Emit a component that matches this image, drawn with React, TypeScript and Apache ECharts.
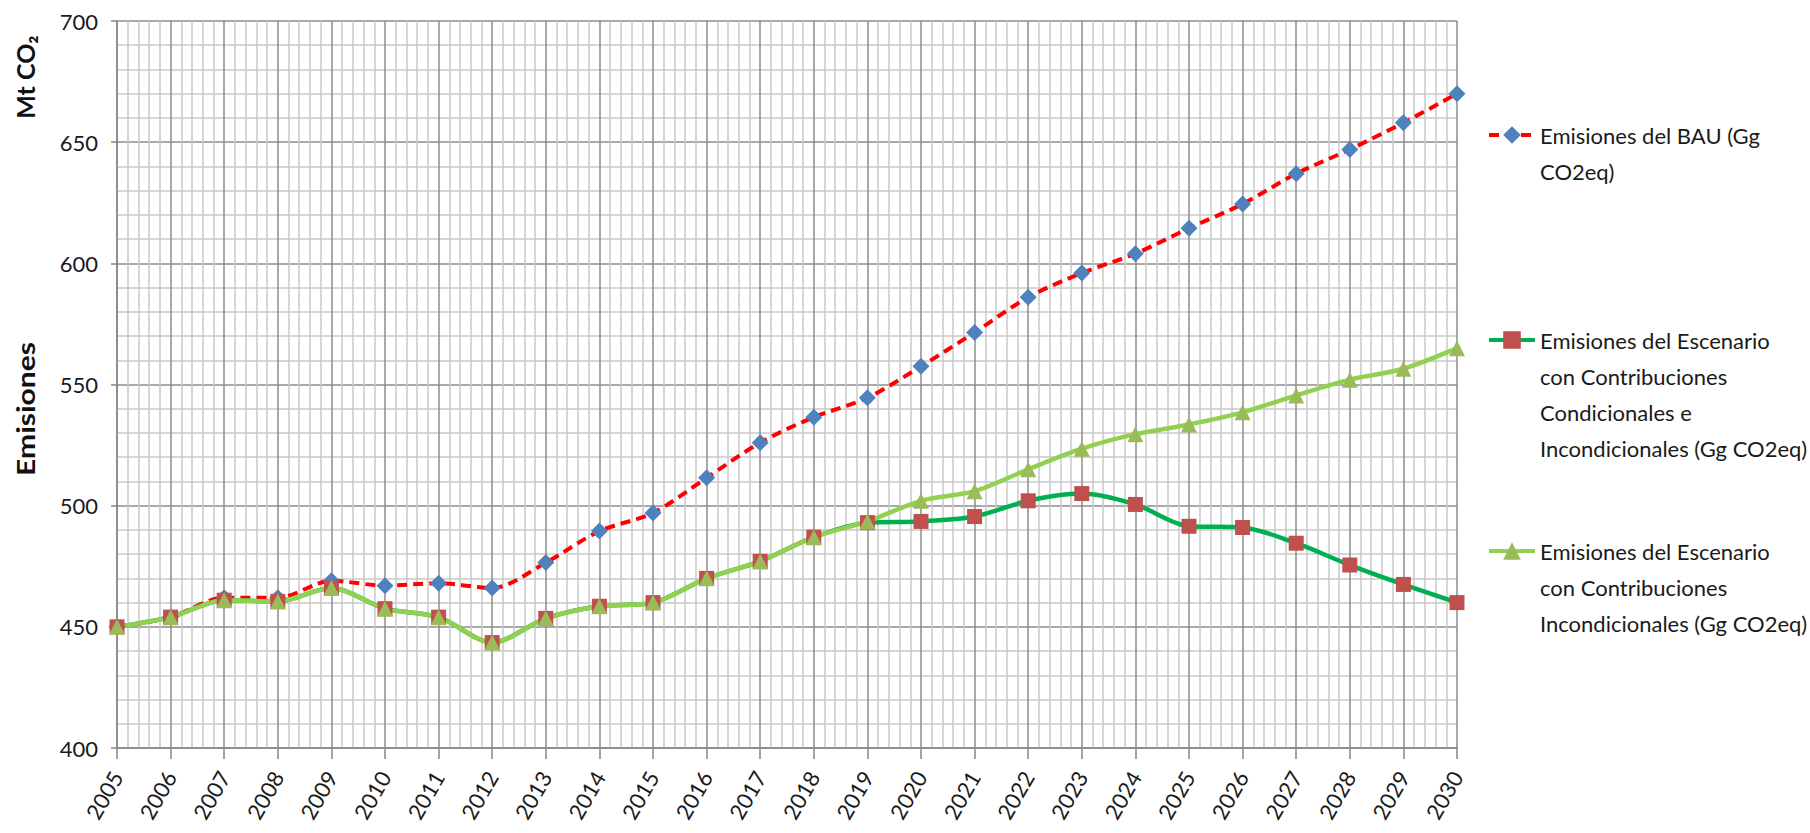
import React, { useEffect, useRef } from "react";
import * as echarts from "echarts";

// ---- Data ----
const years = [
  2005, 2006, 2007, 2008, 2009, 2010, 2011, 2012, 2013, 2014, 2015, 2016, 2017,
  2018, 2019, 2020, 2021, 2022, 2023, 2024, 2025, 2026, 2027, 2028, 2029, 2030,
];

const bauValues = [
  450, 454, 462, 462, 469, 467, 468, 466, 476.5, 489.5, 497, 511.5, 526, 536.5,
  544.5, 557.5, 571.5, 586, 596, 604, 614.5, 624.5, 637, 647, 658, 670,
];

const conditionalValues = [
  450, 454, 461, 460.5, 466, 457.5, 454, 443.5, 453.5, 458.5, 460, 470, 477,
  487, 493, 493.5, 495.5, 502, 505, 500.5, 491.5, 491, 484.5, 475.5, 467.5, 460,
];

const unconditionalValues = [
  450, 454, 461, 460.5, 466, 457.5, 454, 443.5, 453.5, 458.5, 460, 470, 477,
  487, 493.5, 502, 506, 515, 523.5, 529.5, 533.5, 538.5, 545.5, 552, 556.5, 565,
];

const yMin = 400;
const yMax = 700;
const yStep = 50;

const seriesNames = [
  "Emisiones del BAU (Gg CO2eq)",
  "Emisiones del Escenario con Contribuciones Condicionales e Incondicionales (Gg CO2eq)",
  "Emisiones del Escenario con Contribuciones Incondicionales (Gg CO2eq)",
];

const legendLines = [
  ["Emisiones del BAU (Gg", "CO2eq)"],
  ["Emisiones del Escenario", "con Contribuciones", "Condicionales e", "Incondicionales (Gg CO2eq)"],
  ["Emisiones del Escenario", "con Contribuciones", "Incondicionales (Gg CO2eq)"],
];

const yTitleTop = "Mt CO\u2082";
const yTitleMid = "Emisiones";

const FONT = 'Lato, "Liberation Sans", "DejaVu Sans", sans-serif';

export default function App() {
  const ref = useRef<HTMLDivElement>(null);

  useEffect(() => {
    if (!ref.current) return;
    const chart = echarts.init(ref.current, null, { renderer: "svg" });

    const lh = 36;
    const legendTops = [81, 214, 461];

    const legends = seriesNames.map((name, i) => {
      const n = legendLines[i].length;
      // leading blank lines keep the icon level with the first text line
      const label = "\n".repeat(n - 1) + legendLines[i].join("\n");
      return {
        show: true,
        data: [name],
        orient: "vertical",
        left: 1487,
        top: legendTops[i],
        padding: 0,
        itemWidth: 46,
        itemHeight: 22,
        selectedMode: false,
        formatter: () => label,
        lineStyle: { width: 4 },
        textStyle: {
          fontFamily: FONT,
          fontSize: 22,
          color: "#1a1a1a",
          lineHeight: lh,
        },
      };
    });

    const option: any = {
      animation: false,
      backgroundColor: "#ffffff",
      textStyle: { fontFamily: FONT },
      grid: { left: 117, top: 21, width: 1340, height: 727, containLabel: false },
      legend: legends,
      xAxis: {
        type: "value",
        min: years[0],
        max: years[years.length - 1],
        interval: 1,
        axisLine: { show: true, onZero: false, lineStyle: { color: "#868686", width: 1.5 } },
        axisTick: { show: true, length: 11, lineStyle: { color: "#868686", width: 1.5 } },
        axisLabel: {
          rotate: 60,
          margin: 25,
          fontSize: 22,
          color: "#1a1a1a",
          fontFamily: FONT,
          formatter: (v: number) => String(v),
        },
        splitLine: { show: true, lineStyle: { color: "#8c8c8c", width: 1.5 } },
        minorTick: { show: false, splitNumber: 5 },
        minorSplitLine: { show: true, lineStyle: { color: "#c8c8c8", width: 1.5 } },
      },
      yAxis: {
        type: "value",
        min: yMin,
        max: yMax,
        interval: yStep,
        axisLine: { show: true, lineStyle: { color: "#868686", width: 1.5 } },
        axisTick: { show: true, length: 6, lineStyle: { color: "#868686", width: 1.5 } },
        axisLabel: {
          margin: 19,
          fontSize: 22,
          color: "#1a1a1a",
          fontFamily: FONT,
        },
        splitLine: { show: true, lineStyle: { color: "#8c8c8c", width: 1.5 } },
        minorTick: { show: false, splitNumber: 5 },
        minorSplitLine: { show: true, lineStyle: { color: "#c8c8c8", width: 1.5 } },
      },
      graphic: [
        {
          type: "text",
          x: 25,
          y: 77,
          rotation: Math.PI / 2,
          style: {
            text: yTitleTop,
            fontFamily: FONT,
            fontWeight: "bold",
            fontSize: 25,
            fill: "#111111",
            align: "center",
            verticalAlign: "middle",
          },
        },
        {
          type: "text",
          x: 25,
          y: 409,
          rotation: Math.PI / 2,
          scaleX: 1.2,
          style: {
            text: yTitleMid,
            fontFamily: FONT,
            fontWeight: "bold",
            fontSize: 25,
            fill: "#111111",
            align: "center",
            verticalAlign: "middle",
          },
        },
      ],
      series: [
        {
          name: seriesNames[0],
          type: "line",
          data: years.map((y, i) => [y, bauValues[i]]),
          smooth: 0.3,
          symbol: "diamond",
          symbolSize: 17,
          itemStyle: { color: "#4F81BD" },
          lineStyle: { color: "#FF0000", width: 4, type: [10, 6] },
          emphasis: { disabled: true },
        },
        {
          name: seriesNames[1],
          type: "line",
          data: years.map((y, i) => [y, conditionalValues[i]]),
          smooth: 0.3,
          symbol: "rect",
          symbolSize: 15,
          itemStyle: { color: "#C0504D" },
          lineStyle: { color: "#00B050", width: 4.5 },
          emphasis: { disabled: true },
        },
        {
          name: seriesNames[2],
          type: "line",
          data: years.map((y, i) => [y, unconditionalValues[i]]),
          smooth: 0.3,
          symbol: "triangle",
          symbolSize: 16,
          itemStyle: { color: "#9BBB59" },
          lineStyle: { color: "#92D050", width: 4.5 },
          emphasis: { disabled: true },
        },
      ],
    };

    chart.setOption(option);
    return () => {
      chart.dispose();
    };
  }, []);

  return (
    <div
      ref={ref}
      style={{ position: "absolute", left: 0, top: 0, width: 1810, height: 833 }}
    />
  );
}
